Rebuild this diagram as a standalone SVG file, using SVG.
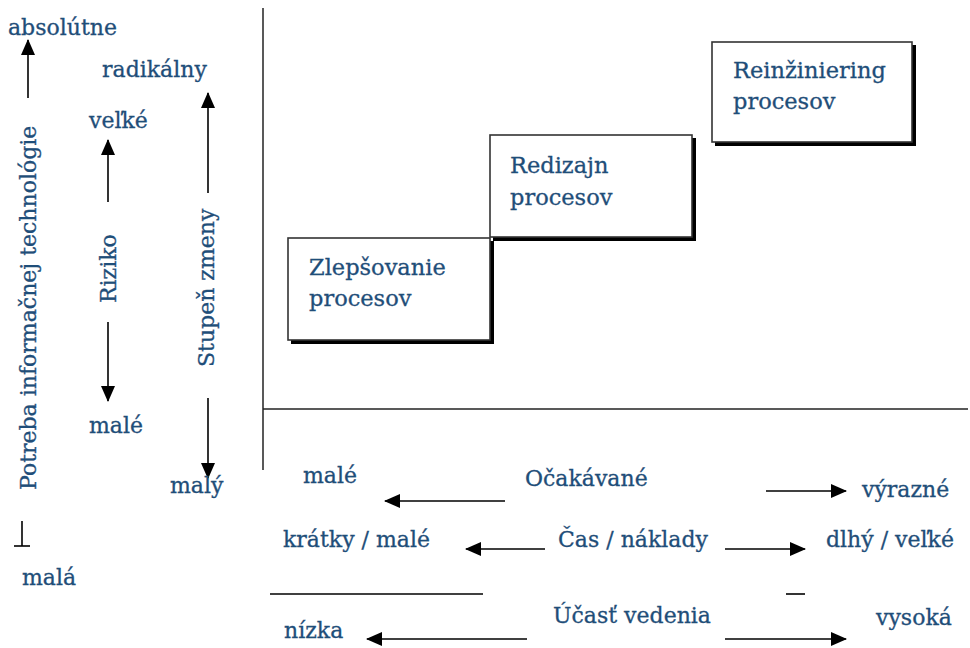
<svg xmlns="http://www.w3.org/2000/svg" width="970" height="648" viewBox="0 0 970 648">
<style>
.t{font-family:"DejaVu Serif","Liberation Serif",serif;font-size:22px;fill:#1f4e79;stroke:#1f4e79;stroke-width:0.3}
.b{font-family:"DejaVu Serif","Liberation Serif",serif;font-size:22.5px;fill:#1f4e79;stroke:#1f4e79;stroke-width:0.3}
.ln{stroke:#000;stroke-width:1.6;fill:none}
.ar{stroke:#000;stroke-width:1.6;fill:none;marker-end:url(#ah)}
.ax{stroke:#222;stroke-width:1.5;fill:none}
.sh{fill:#000}
.bx{fill:#fff;stroke:#333;stroke-width:1.6}
</style>
<defs>
<marker id="ah" markerUnits="userSpaceOnUse" markerWidth="16" markerHeight="16" viewBox="0 0 16 14" refX="15" refY="7" orient="auto">
<path d="M0,0 L16,7 L0,14 z" fill="#000"/>
</marker>
</defs>
<rect width="970" height="648" fill="#fff"/>

<g id="axes">
<line class="ax" x1="263" y1="8" x2="263" y2="470"/>
<line class="ax" x1="263" y1="409" x2="968" y2="409"/>
</g>

<g id="connectors">
<line class="ar" x1="28" y1="98" x2="28" y2="40"/>
<line class="ar" x1="108" y1="202" x2="108" y2="140"/>
<line class="ar" x1="108" y1="322" x2="108" y2="401"/>
<line class="ar" x1="208" y1="193" x2="208" y2="93"/>
<line class="ar" x1="208" y1="398" x2="208" y2="478"/>
<line class="ar" x1="505" y1="501" x2="385" y2="501"/>
<line class="ar" x1="766" y1="491" x2="846" y2="491"/>
<line class="ar" x1="545" y1="549" x2="466" y2="549"/>
<line class="ar" x1="725" y1="549" x2="805" y2="549"/>
<line class="ar" x1="527" y1="639" x2="367" y2="639"/>
<line class="ar" x1="725" y1="639" x2="846" y2="639"/>
<line class="ln" x1="22" y1="521" x2="22" y2="546"/>
<line class="ln" x1="14" y1="546" x2="30" y2="546"/>
<line class="ln" x1="270" y1="594" x2="483" y2="594"/>
<line class="ln" x1="786" y1="594" x2="805" y2="594"/>
</g>

<g id="labels-left">
<text class="t" x="8" y="35">absolútne</text>
<text class="t" x="102" y="77">radikálny</text>
<text class="t" x="89" y="128">veľké</text>
<text class="t" x="89" y="433">malé</text>
<text class="t" x="170" y="493">malý</text>
<text class="t" x="22" y="585">malá</text>
<text class="t" transform="translate(36,490) rotate(-90)">Potreba informačnej technológie</text>
<text class="t" transform="translate(116,303) rotate(-90)">Riziko</text>
<text class="t" transform="translate(214,367) rotate(-90)">Stupeň zmeny</text>
</g>

<g id="node-zlepsovanie">
<rect class="sh" x="291" y="241" width="203" height="103"/>
<rect class="bx" x="288" y="238" width="202" height="102"/>
<text class="b" x="309" y="275">Zlepšovanie</text>
<text class="b" x="309" y="306">procesov</text>
</g>

<g id="node-redizajn">
<rect class="sh" x="493" y="138" width="203" height="103"/>
<rect class="bx" x="490" y="135" width="202" height="102"/>
<text class="b" x="510" y="173">Redizajn</text>
<text class="b" x="510" y="205">procesov</text>
</g>

<g id="node-reinziniering">
<rect class="sh" x="715" y="45" width="201" height="101"/>
<rect class="bx" x="712" y="42" width="200" height="100"/>
<text class="b" x="733" y="78">Reinžiniering</text>
<text class="b" x="733" y="109">procesov</text>
</g>

<g id="labels-bottom">
<text class="t" x="303" y="483">malé</text>
<text class="t" x="525" y="486">Očakávané</text>
<text class="t" x="862" y="497">výrazné</text>
<text class="t" x="283" y="547">krátky / malé</text>
<text class="t" x="558" y="547">Čas / náklady</text>
<text class="t" x="826" y="547">dlhý / veľké</text>
<text class="t" x="284" y="638">nízka</text>
<text class="t" x="553" y="623">Účasť vedenia</text>
<text class="t" x="876" y="625">vysoká</text>
</g>
</svg>
